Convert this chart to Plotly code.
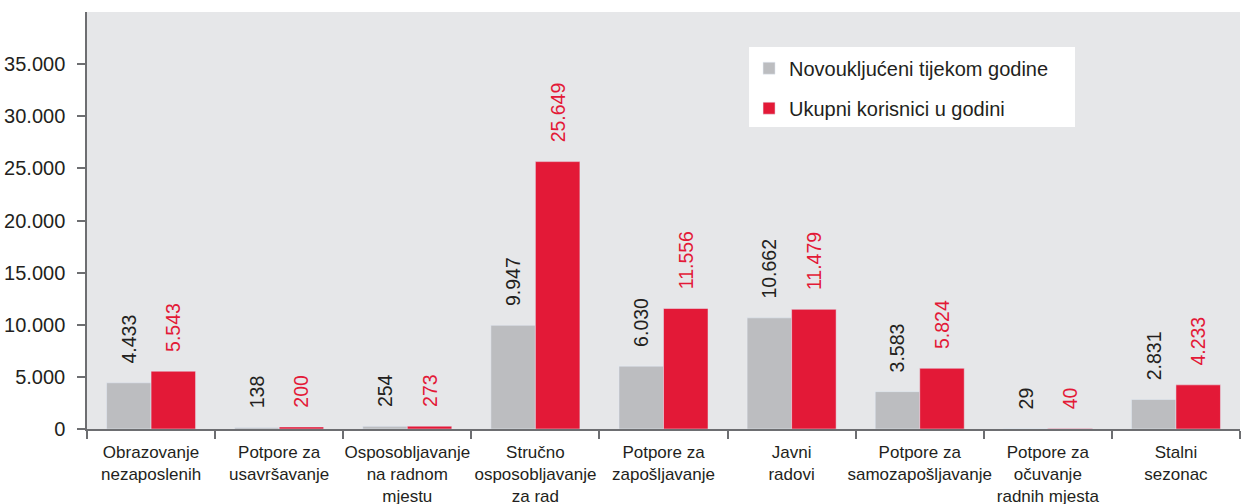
import plotly.graph_objects as go

categories = [
    "Obrazovanje<br>nezaposlenih",
    "Potpore za<br>usavršavanje",
    "Osposobljavanje<br>na radnom<br>mjestu",
    "Stručno<br>osposobljavanje<br>za rad",
    "Potpore za<br>zapošljavanje",
    "Javni<br>radovi",
    "Potpore za<br>samozapošljavanje",
    "Potpore za<br>očuvanje<br>radnih mjesta",
    "Stalni<br>sezonac",
]
novouk = [4433, 138, 254, 9947, 6030, 10662, 3583, 29, 2831]
ukupni = [5543, 200, 273, 25649, 11556, 11479, 5824, 40, 4233]
series_names = ["Novoukljućeni tijekom godine", "Ukupni korisnici u godini"]
y_ticks = [0, 5000, 10000, 15000, 20000, 25000, 30000, 35000]

GRAY = "#bcbdc0"
RED = "#e31937"
DARK = "#231f20"
FONT = "Arial, Liberation Sans, sans-serif"
PAD = "\u00a0\u00a0\u00a0"

fig = go.Figure()
fig.add_trace(go.Bar(
    x=categories, y=novouk, name=series_names[0], marker_color=GRAY,
    text=[PAD + f"{v:,}".replace(",", ".") for v in novouk],
    textposition="outside", textangle=-90, constraintext="none",
    textfont=dict(family=FONT, size=19.5, color=DARK),
    cliponaxis=False, legendgroup="a",
))
fig.add_trace(go.Bar(
    x=categories, y=ukupni, name=series_names[1], marker_color=RED,
    text=[PAD + f"{v:,}".replace(",", ".") for v in ukupni],
    textposition="outside", textangle=-90, constraintext="none",
    textfont=dict(family=FONT, size=19.5, color=RED),
    cliponaxis=False, legendgroup="b",
))

fig.update_layout(
    width=1246, height=504,
    margin=dict(l=87, r=6, t=12, b=75),
    paper_bgcolor="white", plot_bgcolor="#e6e7e9",
    barmode="group", bargap=0.305, bargroupgap=0,
    separators=",.",
    font=dict(family=FONT, color=DARK),
    showlegend=True,
    legend=dict(
        x=0.5742, y=0.912, xanchor="left", yanchor="top",
        bgcolor="rgba(0,0,0,0)", borderwidth=0,
        font=dict(family=FONT, size=20, color=DARK),
        traceorder="grouped", tracegroupgap=11,
    ),
    shapes=[dict(
        type="rect", xref="paper", yref="paper",
        x0=0.5742, x1=0.8569, y0=0.7242, y1=0.9161,
        fillcolor="white", line=dict(width=0), layer="above",
    )],
)
fig.update_yaxes(
    range=[0, 40000], tickvals=y_ticks, tickformat=",d",
    showgrid=False, zeroline=False, automargin=False,
    showline=True, linecolor="#6d6e71", linewidth=1.5,
    ticks="outside", ticklen=8, tickcolor="#6d6e71", tickwidth=1.5,
    tickfont=dict(family=FONT, size=20, color=DARK),
    ticklabelstandoff=8,
)
fig.update_xaxes(
    showgrid=False, showline=True, linecolor="#6d6e71", linewidth=1.5,
    ticks="outside", tickson="boundaries", ticklen=8,
    tickcolor="#6d6e71", tickwidth=1.5, tickangle=0, automargin=False,
    ticklabelstandoff=7,
    tickfont=dict(family=FONT, size=17, color=DARK),
)

fig.write_html("out.html")
